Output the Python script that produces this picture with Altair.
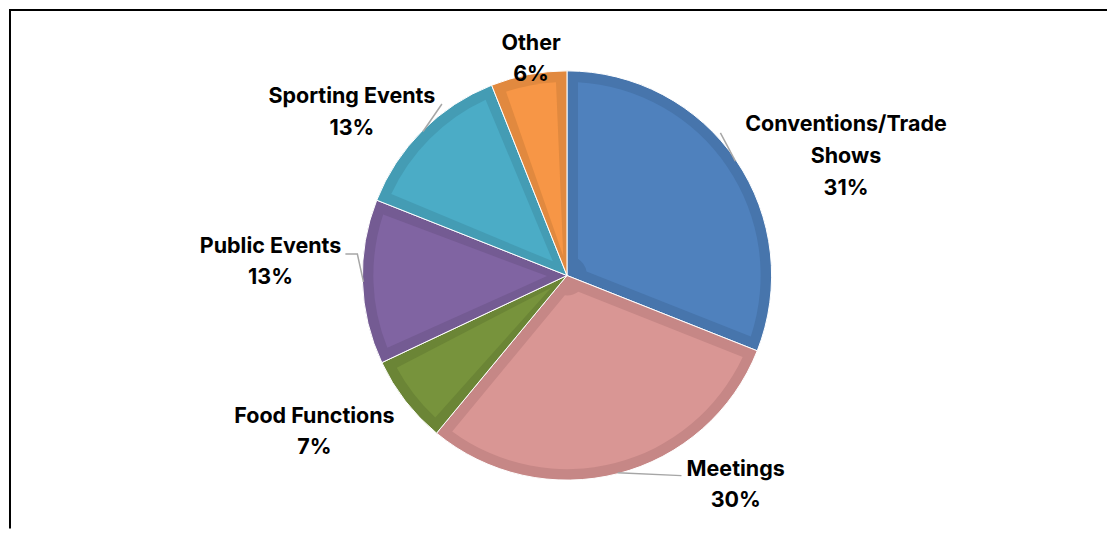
import altair as alt
import pandas as pd
import numpy as np

# ---- data ----
categories = ["Conventions/Trade Shows", "Meetings", "Food Functions",
              "Public Events", "Sporting Events", "Other"]
label_names = ["Conventions/Trade\nShows", "Meetings", "Food Functions",
               "Public Events", "Sporting Events", "Other"]
shares = [31, 30, 7, 13, 13, 6]

# ---- styles ----
fill_colors = ["#4F81BD", "#D99694", "#77933C", "#8064A2", "#4BACC6", "#F79646"]
band_colors = ["#4775AC", "#C68786", "#6B8536", "#745B93", "#449CB4", "#E1893F"]

# ---- layout ----
W, H = 1100, 520
CX, CY = 559, 266.5
R = 205
BAND = 11
label_dx = [279.5, 169, -253, -297, -215.5, -36]
label_dy = [-144.5, 200.5, 147.5, -22.8, -172.8, -226.2]
# leader lines: slice index -> extra points (offsets from pie centre)
leader_pts = {
    0: [(153.7, -142.8)],
    4: [(-125.3, -171.8)],
    3: [(-210.0, -21.5), (-222.0, -21.5)],
    1: [(114.7, 200.5)],
}

total = float(sum(shares))
pie_df = pd.DataFrame({
    "idx": list(range(len(categories))),
    "cat": categories,
    "share": shares,
    "fill": fill_colors,
    "band": band_colors,
})

# mid angles of slices (0 = 12 o'clock, clockwise)
cum = np.cumsum([0] + shares)
mid = [(cum[i] + cum[i + 1]) / 2 / total * 2 * np.pi for i in range(len(shares))]

lab_df = pd.DataFrame({
    "x": [CX + d for d in label_dx],
    "y": [CY + d for d in label_dy],
    "text": [f"{n}\n{s}%" for n, s in zip(label_names, shares)],
})

rows = []
for i, pts in leader_pts.items():
    a = mid[i]
    rows.append({"id": i, "o": 0, "x": CX + (R - 1) * np.sin(a), "y": CY - (R - 1) * np.cos(a)})
    for k, (dx, dy) in enumerate(pts):
        rows.append({"id": i, "o": k + 1, "x": CX + dx, "y": CY + dy})
lead_df = pd.DataFrame(rows)

base = alt.Chart(pie_df).encode(
    theta=alt.Theta("share:Q", stack=True),
    order=alt.Order("idx:Q"),
    x=alt.value(CX),
    y=alt.value(CY),
)
outer = base.mark_arc(radius=R, stroke="white", strokeWidth=1).encode(
    color=alt.Color("band:N", scale=None, legend=None)
)
inner = base.mark_arc(radius=R - BAND, innerRadius=20, padAngle=0.113).encode(
    color=alt.Color("fill:N", scale=None, legend=None)
)

leaders = alt.Chart(lead_df).mark_line(color="#A6A6A6", strokeWidth=1.5).encode(
    x=alt.X("x:Q", scale=None, axis=None),
    y=alt.Y("y:Q", scale=None, axis=None),
    detail="id:N",
    order="o:Q",
)

labels = alt.Chart(lab_df).mark_text(
    font="Inter", fontSize=21.5, fontWeight="bold", lineBreak="\n",
    lineHeight=31.7, align="center", baseline="alphabetic", color="#000000",
).encode(
    x=alt.X("x:Q", scale=None, axis=None),
    y=alt.Y("y:Q", scale=None, axis=None),
    text="text:N",
)

one = pd.DataFrame({"k": [0]})
frame_top = alt.Chart(one).mark_rule(color="black", strokeWidth=2).encode(
    x=alt.value(0), x2=alt.value(W), y=alt.value(0.5)
)
frame_left = alt.Chart(one).mark_rule(color="black", strokeWidth=2).encode(
    x=alt.value(1), y=alt.value(0), y2=alt.value(H)
)

chart = alt.layer(outer, inner, leaders, labels, frame_top, frame_left).properties(
    width=W, height=H, padding=0, background="white"
).configure_view(stroke=None)

chart.save("out.html", embed_options={"renderer": "svg", "actions": False})
